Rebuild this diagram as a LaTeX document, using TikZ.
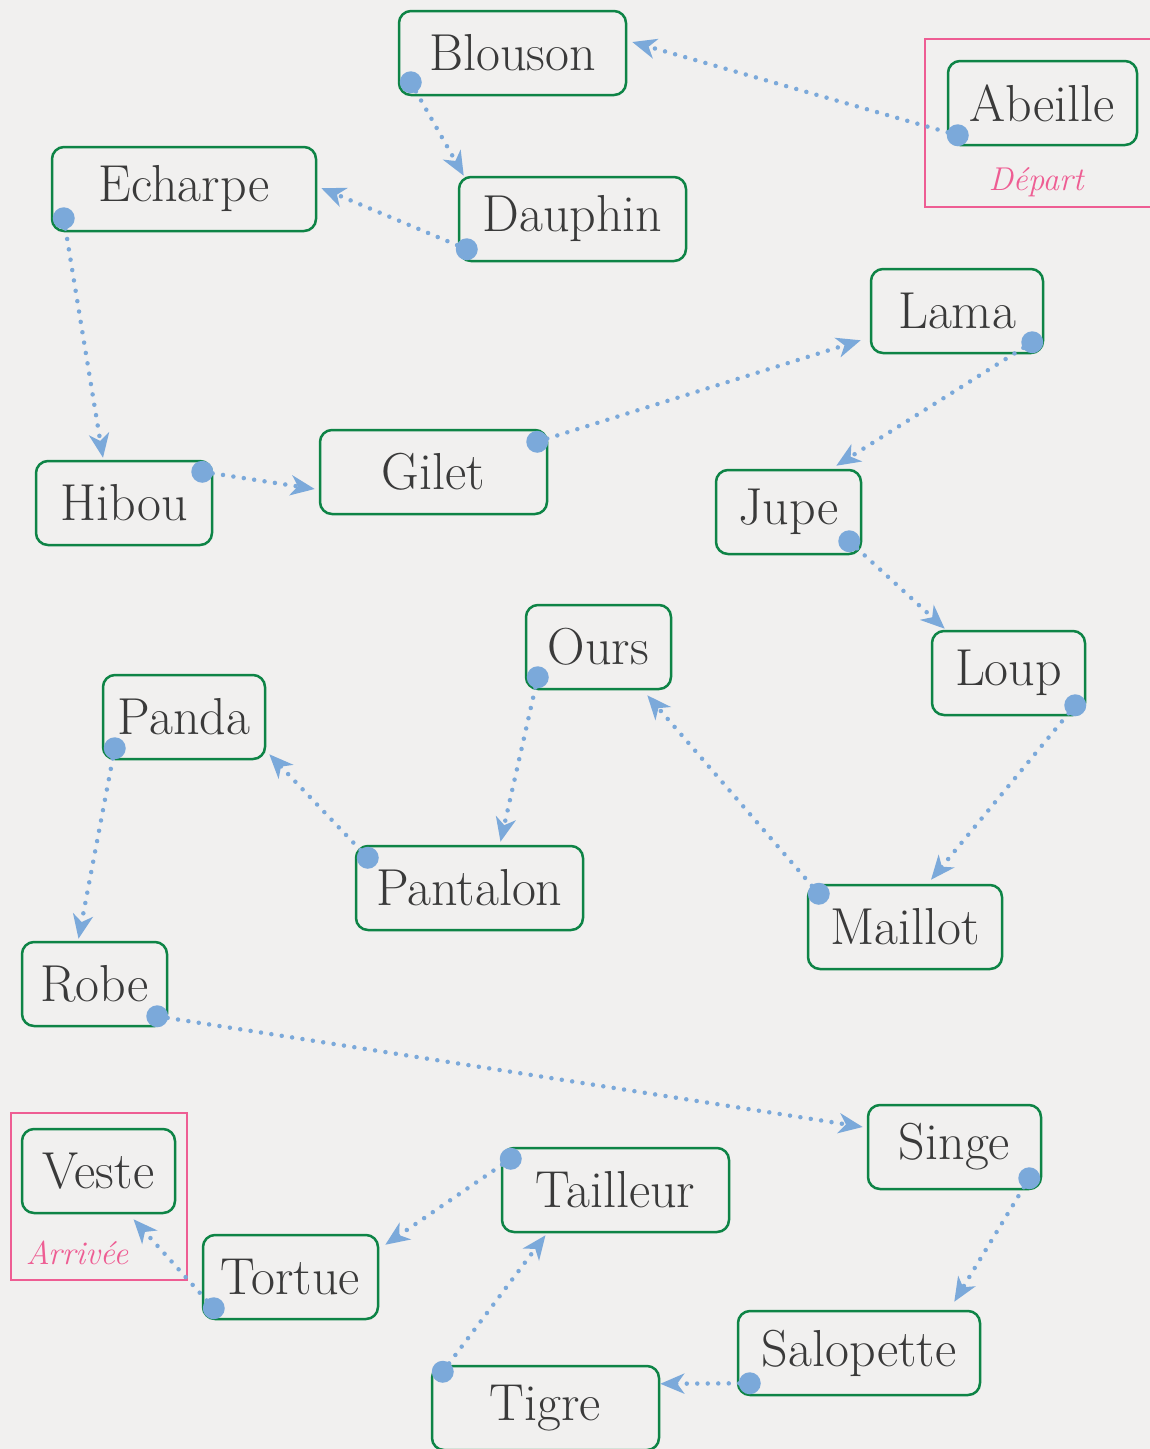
\documentclass[tikz,border=0pt]{standalone}
\usetikzlibrary{arrows.meta,calc}
\definecolor{bg}{HTML}{F1F0EF}
\definecolor{boxgreen}{HTML}{0E8446}
\definecolor{txt}{HTML}{3A3A3A}
\definecolor{pinkc}{HTML}{EE5D93}
\definecolor{bluec}{HTML}{7BA9DA}
\newcommand\lnk[2]{\draw[link] #1 -- #2; \fill[bluec] #1 circle (11pt);}
\begin{document}
\begin{tikzpicture}[x=1pt,y=-1pt,
 box/.style={draw=boxgreen, line width=2.5pt, rounded corners=12pt, minimum height=84pt, inner sep=0pt, text=txt, font=\fontsize{52}{60}\selectfont},
 link/.style={bluec, line width=4.5pt, line cap=round, dash pattern=on 0pt off 10.5pt, -{Stealth[length=24pt,width=20pt,inset=7pt]}},
 frame/.style={draw=pinkc, line width=2.5pt},
 lab/.style={text=pinkc, font=\fontsize{33}{40}\selectfont\itshape}]
\fill[bg] (0,0) rectangle (1150,1449);
\useasboundingbox (0,0) rectangle (1150,1449);
% frames
\draw[frame] (1160,39) -- (925,39) -- (925,207) -- (1160,207);
\node[lab] (depart) at (1036,182) {Départ};
\draw[frame] (11,1113) rectangle (187,1280);
\node[lab] (arrivee) at (77,1253) {Arrivée};
% nodes
\node[box, minimum width=227pt] (blouson) at (512.5,53) {Blouson};
\node[box, minimum width=189pt] (abeille) at (1042.5,103) {Abeille};
\node[box, minimum width=264pt] (echarpe) at (184,189) {Echarpe};
\node[box, minimum width=227pt] (dauphin) at (572.5,219) {Dauphin};
\node[box, minimum width=172pt] (lama) at (957,311) {Lama};
\node[box, minimum width=176pt] (hibou) at (124,503) {Hibou};
\node[box, minimum width=227pt] (gilet) at (433.5,472) {Gilet};
\node[box, minimum width=145pt] (jupe) at (788.5,512) {Jupe};
\node[box, minimum width=145pt] (ours) at (598.5,647) {Ours};
\node[box, minimum width=153pt] (loup) at (1008.5,673) {Loup};
\node[box, minimum width=162pt] (panda) at (184,717) {Panda};
\node[box, minimum width=227pt] (pantalon) at (469.5,888) {Pantalon};
\node[box, minimum width=194pt] (maillot) at (905,927) {Maillot};
\node[box, minimum width=145pt] (robe) at (94.5,984) {Robe};
\node[box, minimum width=173pt] (singe) at (954.5,1147) {Singe};
\node[box, minimum width=153pt] (veste) at (98.5,1171) {Veste};
\node[box, minimum width=227pt] (tailleur) at (615.5,1190) {Tailleur};
\node[box, minimum width=175pt] (tortue) at (290.5,1277) {Tortue};
\node[box, minimum width=242pt] (salopette) at (859,1353) {Salopette};
\node[box, minimum width=227pt] (tigre) at (545.5,1408) {Tigre};
% links
\lnk{($(abeille.south west)+(11,-11)$)}{($(blouson.east)+(5,-11)$)}
\lnk{($(blouson.south west)+(13,-14)$)}{($(dauphin.north west)+(6,0)$)}
\lnk{($(dauphin.south west)+(9,-13)$)}{($(echarpe.east)+(4,-1)$)}
\lnk{($(echarpe.south west)+(13,-14)$)}{($(hibou.north)+(-21,-2)$)}
\lnk{($(hibou.north east)+(-11,12)$)}{($(gilet.west)+(-4,17)$)}
\lnk{($(gilet.north east)+(-11,13)$)}{($(lama.south west)+(-9,-14)$)}
\lnk{($(lama.south east)+(-12,-12)$)}{($(jupe.north east)+(-26,-3)$)}
\lnk{($(jupe.south east)+(-13,-14)$)}{($(loup.north west)+(14,-1)$)}
\lnk{($(loup.south east)+(-11,-11)$)}{($(maillot.north)+(26,-4)$)}
\lnk{($(maillot.north west)+(12,10)$)}{($(ours.south east)+(-25,5)$)}
\lnk{($(ours.south west)+(13,-13)$)}{($(pantalon.north)+(31,-3)$)}
\lnk{($(pantalon.north west)+(13,13)$)}{($(panda.south east)+(3,-6)$)}
\lnk{($(panda.south west)+(13,-12)$)}{($(robe.north)+(-16,-2)$)}
\lnk{($(robe.south east)+(-11,-11)$)}{($(singe.west)+(-4,-20)$)}
\lnk{($(singe.south east)+(-13,-12)$)}{($(salopette.north east)+(-27,-8)$)}
\lnk{($(salopette.south west)+(13,-13)$)}{($(tigre.north east)+(0,19)$)}
\lnk{($(tigre.north west)+(12,7)$)}{($(tailleur.south)+(-70,2)$)}
\lnk{($(tailleur.north west)+(10,12)$)}{($(tortue.north east)+(6,11)$)}
\lnk{($(tortue.south west)+(12,-12)$)}{($(veste.south)+(35,5)$)}
\end{tikzpicture}
\end{document}
